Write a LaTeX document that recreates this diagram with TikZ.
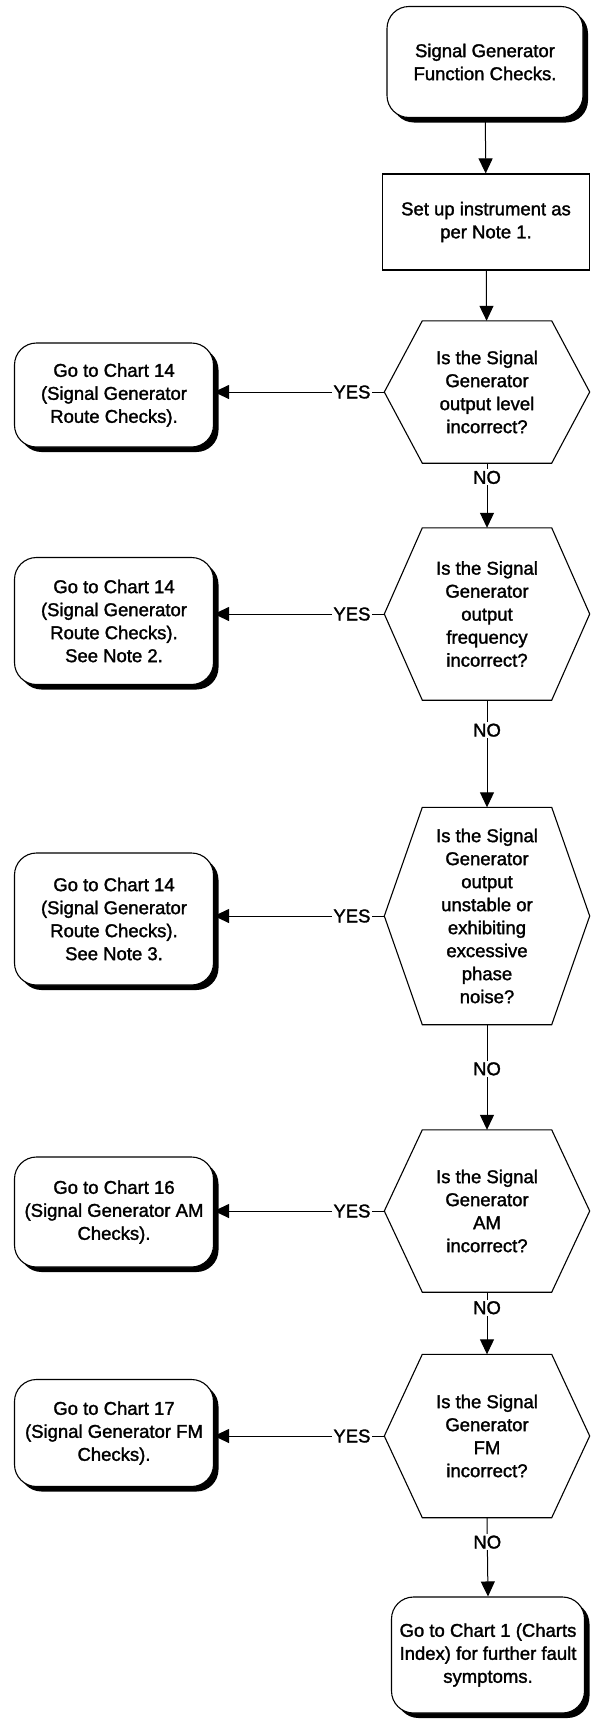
\documentclass[tikz,border=0pt]{standalone}
\usepackage{fontspec}
\setmainfont{Liberation Sans}[FakeBold=1.6]
\usetikzlibrary{arrows.meta, shadows}

\tikzset{
  chartfont/.style={font=\fontsize{18.5}{23}\selectfont},
  terminal/.style={draw, line width=1.1pt, fill=white, align=center, chartfont,
    rounded corners=22pt, inner sep=0pt,
    drop shadow={shadow xshift=5pt, shadow yshift=-5pt, opacity=1, fill=black}},
  process/.style={draw, line width=1.1pt, fill=white, align=center, chartfont, inner sep=0pt},
  decision/.style={align=center, chartfont, inner sep=0pt, minimum width=205pt},
  arr/.style={line width=1pt, -{Triangle[length=15pt,width=14pt]}},
  lbl/.style={fill=white, inner sep=1.5pt, chartfont}
}

\begin{document}
\begin{tikzpicture}[x=1pt, y=-1pt]
  \useasboundingbox (0,0) rectangle (597,1721);

  % main column
  \node[terminal, minimum width=196pt, minimum height=111pt] (start) at (485,62)
    {Signal Generator\\Function Checks.};
  \node[process, minimum width=207pt, minimum height=96pt] (setup) at (486,222)
    {Set up instrument as\\per Note 1.};

  \node[decision, minimum height=142pt] (q1) at (487,392)
    {Is the Signal\\Generator\\output level\\incorrect?};
  \node[decision, minimum height=172pt] (q2) at (487,614)
    {Is the Signal\\Generator\\output\\frequency\\incorrect?};
  \node[decision, minimum height=217pt] (q3) at (487,916)
    {Is the Signal\\Generator\\output\\unstable or\\exhibiting\\excessive\\phase\\noise?};
  \node[decision, minimum height=162pt] (q4) at (487,1211)
    {Is the Signal\\Generator\\AM\\incorrect?};
  \node[decision, minimum height=163pt] (q5) at (487,1436)
    {Is the Signal\\Generator\\FM\\incorrect?};

  \node[terminal, minimum width=193pt, minimum height=116pt] (end) at (488,1655)
    {Go to Chart 1 (Charts\\Index) for further fault\\symptoms.};

  % hexagon outlines
  \foreach \q in {q1,q2,q3,q4,q5}
    \draw[line width=1.1pt] (\q.west) -- ([xshift=38pt]\q.north west)
      -- ([xshift=-38pt]\q.north east) -- (\q.east)
      -- ([xshift=-38pt]\q.south east) -- ([xshift=38pt]\q.south west) -- cycle;

  % exits on the left
  \node[terminal, minimum width=199pt, minimum height=104pt] (g1) at (114,395)
    {Go to Chart 14\\(Signal Generator\\Route Checks).};
  \node[terminal, minimum width=199pt, minimum height=127pt] (g2) at (114,621)
    {Go to Chart 14\\(Signal Generator\\Route Checks).\\See Note 2.};
  \node[terminal, minimum width=199pt, minimum height=132pt] (g3) at (114,919)
    {Go to Chart 14\\(Signal Generator\\Route Checks).\\See Note 3.};
  \node[terminal, minimum width=199pt, minimum height=110pt] (g4) at (114,1212)
    {Go to Chart 16\\(Signal Generator AM\\Checks).};
  \node[terminal, minimum width=199pt, minimum height=107pt] (g5) at (114,1433)
    {Go to Chart 17\\(Signal Generator FM\\Checks).};

  % connectors
  \draw[arr] (start) -- (setup);
  \draw[arr] (setup) -- (q1);
  \foreach \a/\b/\p in {q1/q2/0.22, q2/q3/0.28, q3/q4/0.42, q4/q5/0.25, q5/end/0.31}
    \draw[arr] (\a.south) -- node[pos=\p, lbl] {NO} (\b.north);
  \foreach \i in {1,...,5}
    \draw[arr] (q\i.west) -- node[pos=0.19, lbl] {YES} (q\i.west -| g\i.east);
\end{tikzpicture}
\end{document}
